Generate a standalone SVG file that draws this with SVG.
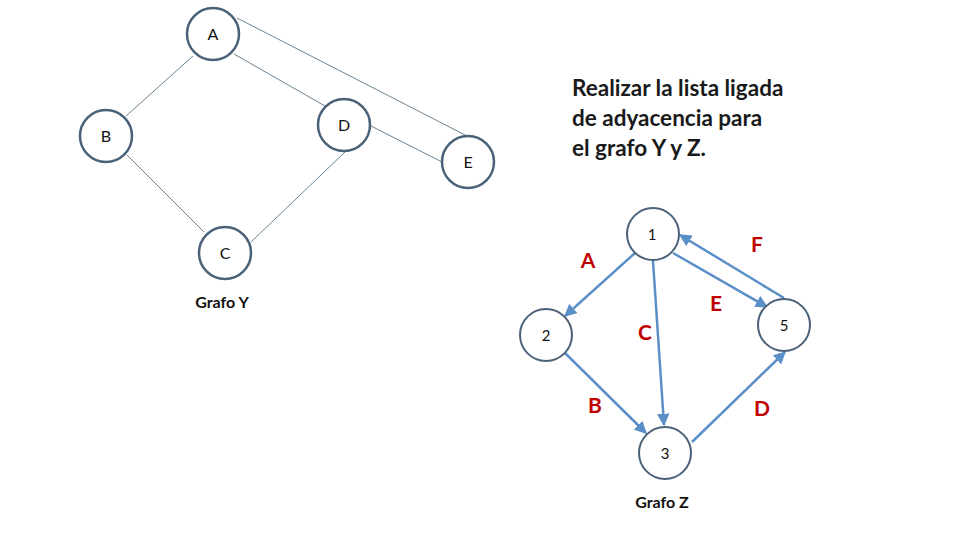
<svg xmlns="http://www.w3.org/2000/svg" width="960" height="540" viewBox="0 0 960 540">
<defs>
<marker id="arr" viewBox="0 0 10 10" refX="9" refY="5" markerWidth="5" markerHeight="5" orient="auto" markerUnits="strokeWidth">
<path d="M0,0 L10,5 L0,10 z" fill="#5b8fc7"/>
</marker>
<style>
.ny{fill:#fff;stroke:#4a6178;stroke-width:2.5}
.nz{fill:#fff;stroke:#4a6178;stroke-width:2}
.ey{stroke:#6a8494;stroke-width:1;fill:none}
.ez{stroke:#5b8fc7;stroke-width:2.5;fill:none;marker-end:url(#arr)}
.lab{font-family:Lato,"Open Sans","Liberation Sans",sans-serif;font-size:16px;fill:#111;text-anchor:middle}
.num{font-family:Lato,"Open Sans","Liberation Sans",sans-serif;font-size:15px;fill:#111;text-anchor:middle}
.cap{font-family:Lato,"Open Sans","Liberation Sans",sans-serif;font-size:16px;font-weight:bold;fill:#111;text-anchor:middle}
.red{font-family:Lato,"Open Sans","Liberation Sans",sans-serif;font-size:21px;font-weight:bold;fill:#c00000;text-anchor:middle}
.title{font-family:Lato,"Open Sans","Liberation Sans",sans-serif;font-size:22.5px;font-weight:bold;fill:#1a1a1a}
</style>
</defs>
<rect width="960" height="540" fill="#fff"/>
<g id="connectors">
<line class="ey" x1="193" y1="56" x2="126" y2="116"/>
<line class="ey" x1="234" y1="54" x2="325" y2="106"/>
<line class="ey" x1="237" y1="18" x2="467" y2="136"/>
<line class="ey" x1="371" y1="126" x2="442" y2="162"/>
<line class="ey" x1="127" y1="155" x2="204" y2="232"/>
<line class="ey" x1="345" y1="152" x2="251" y2="242"/>
<line class="ez" x1="635" y1="253" x2="565" y2="316"/>
<line class="ez" x1="653" y1="261" x2="664" y2="425"/>
<line class="ez" x1="673" y1="253" x2="767" y2="307"/>
<line class="ez" x1="784" y1="298" x2="680" y2="235"/>
<line class="ez" x1="565" y1="353" x2="646" y2="433"/>
<line class="ez" x1="692" y1="442" x2="785" y2="352"/>
</g>
<g id="nodeA"><circle class="ny" cx="213" cy="34" r="26"/><text class="lab" x="213" y="40">A</text></g>
<g id="nodeB"><circle class="ny" cx="106" cy="136" r="26"/><text class="lab" x="106" y="142">B</text></g>
<g id="nodeD"><circle class="ny" cx="344" cy="125" r="26"/><text class="lab" x="344" y="131">D</text></g>
<g id="nodeE"><circle class="ny" cx="468" cy="162" r="26"/><text class="lab" x="468" y="168">E</text></g>
<g id="nodeC"><circle class="ny" cx="225" cy="253" r="26"/><text class="lab" x="225" y="259">C</text></g>
<text class="cap" x="222" y="308">Grafo Y</text>
<g id="title">
<text class="title" x="572" y="96">Realizar la lista ligada</text>
<text class="title" x="572" y="126">de adyacencia para</text>
<text class="title" x="572" y="156">el grafo Y y Z.</text>
</g>
<g id="node1"><circle class="nz" cx="653" cy="234" r="26"/><text class="num" x="652" y="240">1</text></g>
<g id="node2"><circle class="nz" cx="546" cy="335" r="26"/><text class="num" x="546" y="341">2</text></g>
<g id="node5"><circle class="nz" cx="784" cy="325" r="26"/><text class="num" x="784" y="331">5</text></g>
<g id="node3"><circle class="nz" cx="665" cy="453" r="26"/><text class="num" x="665" y="459">3</text></g>
<text class="red" x="588" y="268">A</text>
<text class="red" x="757" y="252">F</text>
<text class="red" x="716" y="311">E</text>
<text class="red" x="645" y="340">C</text>
<text class="red" x="595" y="413">B</text>
<text class="red" x="762" y="416">D</text>
<text class="cap" x="662" y="508">Grafo Z</text>
</svg>
